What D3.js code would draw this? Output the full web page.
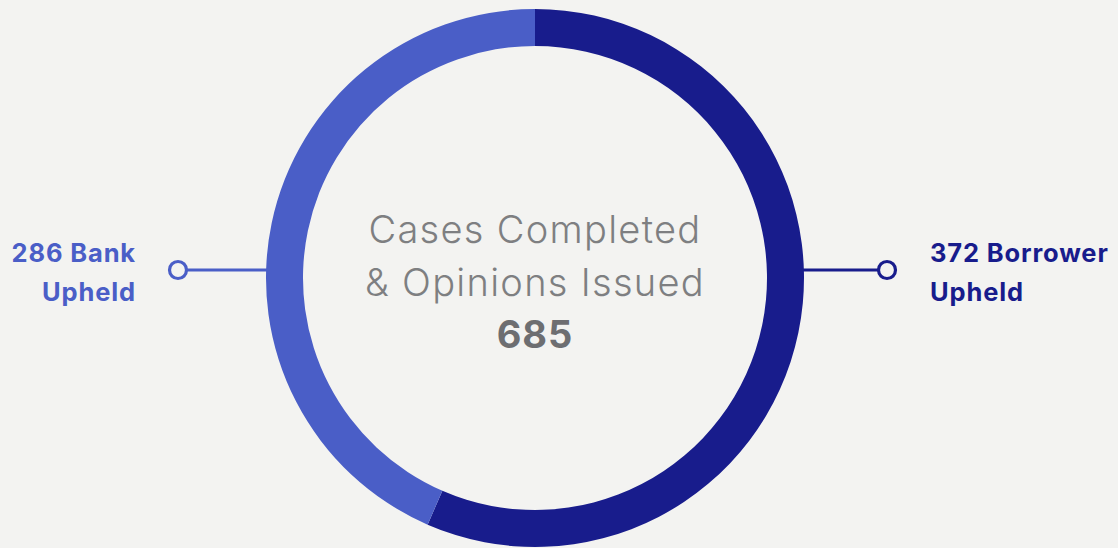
<!DOCTYPE html>
<html>
<head>
<meta charset="utf-8">
<script src="https://cdn.jsdelivr.net/npm/d3@7"></script>
<style>
  html, body { margin: 0; padding: 0; background: #f3f3f1; }
  svg { display: block; }
</style>
</head>
<body>
<svg id="chart"></svg>
<script>
var width = 1118, height = 548;

// data
var categories = ["Borrower Upheld", "Bank Upheld"];
var values = [372, 286];
var labelLines = [["372 Borrower", "Upheld"], ["286 Bank", "Upheld"]];
var centerLines = ["Cases Completed", "& Opinions Issued"];
var centerTotal = "685";

var colors = ["#181c8c", "#4a5ec7"];

var cx = 535, cy = 278;
var outerR = 269, innerR = 232;

var svg = d3.select("#chart")
    .attr("width", width)
    .attr("height", height);

var g = svg.append("g")
    .attr("transform", "translate(" + cx + "," + cy + ")");

var pie = d3.pie().sort(null).value(function(d) { return d; });
var arc = d3.arc().innerRadius(innerR).outerRadius(outerR);

g.selectAll("path.slice")
    .data(pie(values))
    .join("path")
    .attr("class", "slice")
    .attr("d", arc)
    .attr("fill", function(d, i) { return colors[i]; });

// connectors: right for borrower, left for bank
var connectors = [
    {x1: outerR - 2, x2: 352, dir: 1},
    {x1: -outerR + 2, x2: -357, dir: -1}
];

connectors.forEach(function(c, i) {
    g.append("line")
        .attr("x1", c.x1).attr("x2", c.x2 - c.dir * 8.5)
        .attr("y1", -8).attr("y2", -8)
        .attr("stroke", colors[i])
        .attr("stroke-width", 3);
    g.append("circle")
        .attr("cx", c.x2).attr("cy", -8)
        .attr("r", 8.5)
        .attr("fill", "#f3f3f1")
        .attr("stroke", colors[i])
        .attr("stroke-width", 3.2);
});

// labels
var labelFont = "Inter, 'Open Sans', sans-serif";
var rightLabel = svg.append("text")
    .attr("x", 930)
    .attr("y", 262)
    .attr("fill", colors[0])
    .style("font-family", labelFont)
    .style("font-weight", 700)
    .style("font-size", "25.5px")
    .style("letter-spacing", "0.85px");
rightLabel.selectAll("tspan")
    .data(labelLines[0])
    .join("tspan")
    .attr("x", 930)
    .attr("dy", function(d, i) { return i === 0 ? 0 : 39; })
    .text(function(d) { return d; });

var leftLabel = svg.append("text")
    .attr("x", 136)
    .attr("y", 262)
    .attr("text-anchor", "end")
    .attr("fill", colors[1])
    .style("font-family", labelFont)
    .style("font-weight", 700)
    .style("font-size", "25.5px")
    .style("letter-spacing", "0.85px");
leftLabel.selectAll("tspan")
    .data(labelLines[1])
    .join("tspan")
    .attr("x", 136)
    .attr("dy", function(d, i) { return i === 0 ? 0 : 39; })
    .text(function(d) { return d; });

// centre text
var centre = svg.append("text")
    .attr("text-anchor", "middle")
    .style("font-family", labelFont);

centre.selectAll("tspan.line")
    .data(centerLines)
    .join("tspan")
    .attr("class", "line")
    .attr("x", cx)
    .attr("y", function(d, i) { return 243 + i * 53; })
    .attr("fill", "#7e7f81")
    .style("font-weight", 300)
    .style("font-size", "38px")
    .style("letter-spacing", "1.3px")
    .text(function(d) { return d; });

centre.append("tspan")
    .attr("x", cx)
    .attr("y", 348)
    .attr("fill", "#6d6e71")
    .style("font-weight", 700)
    .style("font-size", "38px")
    .style("letter-spacing", "1px")
    .text(centerTotal);
</script>
</body>
</html>
